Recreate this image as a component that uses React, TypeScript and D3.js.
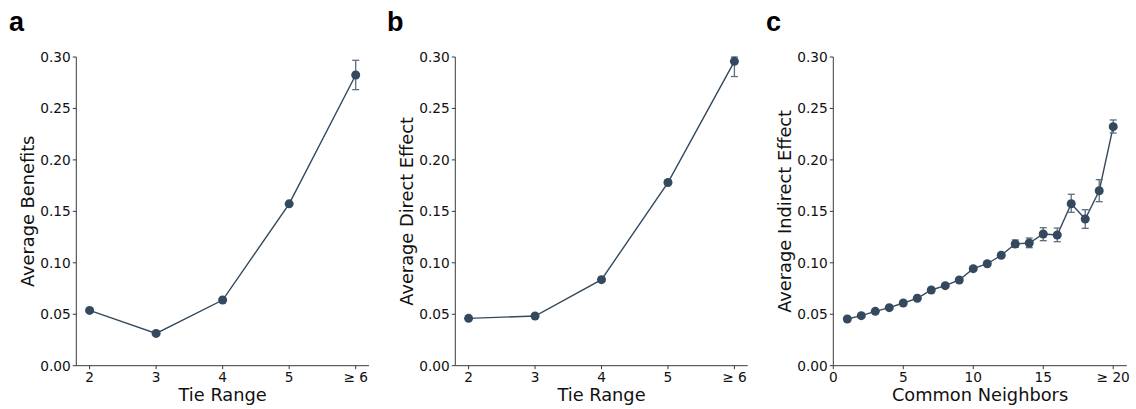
import React from "react";
import * as d3 from "d3";

// ---- Data ----
const tieRange = [2, 3, 4, 5, 6];
const tieRangeLabels = ["2", "3", "4", "5", "≥ 6"];

const benefits = [0.0537, 0.0314, 0.0638, 0.1573, 0.2825];
const benefitsLo = [0.0527, 0.0306, 0.0630, 0.1563, 0.2683];
const benefitsHi = [0.0547, 0.0322, 0.0646, 0.1583, 0.2968];

const directEffect = [0.046, 0.0483, 0.0836, 0.178, 0.2958];
const directLo = [0.0452, 0.0475, 0.0828, 0.1770, 0.2810];
const directHi = [0.0468, 0.0491, 0.0844, 0.1790, 0.3000];

const commonNeighbors = [1, 2, 3, 4, 5, 6, 7, 8, 9, 10, 11, 12, 13, 14, 15, 16, 17, 18, 19, 20];
const cnTicks = [0, 5, 10, 15, 20];
const cnTickLabels = ["0", "5", "10", "15", "≥ 20"];
const indirectEffect = [0.0454, 0.0486, 0.0528, 0.0564, 0.0609, 0.0655, 0.0736, 0.0778, 0.0833, 0.0943,
  0.0991, 0.1073, 0.1183, 0.1192, 0.128, 0.127, 0.1574, 0.1426, 0.170, 0.2323];
const indirectLo = [0.0448, 0.0480, 0.0521, 0.0556, 0.0600, 0.0645, 0.0725, 0.0766, 0.0820, 0.0928,
  0.0975, 0.1055, 0.1150, 0.1147, 0.1215, 0.1205, 0.1491, 0.1335, 0.1594, 0.2261];
const indirectHi = [0.0460, 0.0492, 0.0535, 0.0572, 0.0618, 0.0665, 0.0747, 0.0790, 0.0846, 0.0958,
  0.1007, 0.1091, 0.1222, 0.1241, 0.1341, 0.1338, 0.1666, 0.1516, 0.1808, 0.2388];

const yTicks = [0, 0.05, 0.1, 0.15, 0.2, 0.25, 0.3];

const COLOR = "#34495e";
const ERR = "#5d6d80";
const AXIS = "#3a3a3a";
const FONT = "'DejaVu Sans', sans-serif";

type PanelProps = {
  letter: string;
  letterX: number;
  left: number;
  right: number;
  xDomain: [number, number];
  xs: number[];
  ys: number[];
  lo: number[];
  hi: number[];
  xTicks: number[];
  xTickLabels: string[];
  xLabel: string;
  yLabel: string;
};

const TOP = 57;
const BOTTOM = 365.7;

function Panel(p: PanelProps) {
  const x = d3.scaleLinear().domain(p.xDomain).range([p.left, p.right]);
  const y = d3.scaleLinear().domain([0, 0.3]).range([BOTTOM, TOP]);
  const line = d3
    .line<number>()
    .x((_, i) => x(p.xs[i]))
    .y((d) => y(d));
  const cap = 3.5;
  return (
    <g>
      <text x={p.letterX} y={31} fontFamily="'Liberation Sans', Arial, sans-serif" fontWeight="bold" fontSize={27} fill="#000">
        {p.letter}
      </text>
      {/* axes */}
      <line x1={p.left} x2={p.left} y1={TOP} y2={BOTTOM} stroke={AXIS} strokeWidth={1} />
      <line x1={p.left} x2={p.right} y1={BOTTOM} y2={BOTTOM} stroke={AXIS} strokeWidth={1} />
      {yTicks.map((t) => (
        <g key={"y" + t}>
          <line x1={p.left - 3.5} x2={p.left} y1={y(t)} y2={y(t)} stroke={AXIS} strokeWidth={1} />
          <text x={p.left - 5.5} y={y(t)} dy="0.36em" textAnchor="end" fontFamily={FONT} fontSize={13.7} fill="#111">
            {d3.format(".2f")(t)}
          </text>
        </g>
      ))}
      {p.xTicks.map((t, i) => (
        <g key={"x" + t}>
          <line x1={x(t)} x2={x(t)} y1={BOTTOM} y2={BOTTOM + 3.5} stroke={AXIS} strokeWidth={1} />
          <text x={x(t)} y={381.5} textAnchor="middle" fontFamily={FONT} fontSize={13.7} fill="#111">
            {p.xTickLabels[i]}
          </text>
        </g>
      ))}
      <text x={(p.left + p.right) / 2} y={401} textAnchor="middle" fontFamily={FONT} fontSize={17.8} fill="#111">
        {p.xLabel}
      </text>
      <text
        transform={`translate(${p.left - 49},${(TOP + BOTTOM) / 2}) rotate(-90)`}
        textAnchor="middle"
        dy="0.36em"
        fontFamily={FONT}
        fontSize={17.8}
        fill="#111"
      >
        {p.yLabel}
      </text>
      {/* line */}
      <path d={line(p.ys) || ""} fill="none" stroke={COLOR} strokeWidth={1.4} />
      {/* error bars */}
      {p.ys.map((_, i) => (
        <g key={"e" + i} stroke={ERR} strokeWidth={1.3}>
          <line x1={x(p.xs[i])} x2={x(p.xs[i])} y1={y(p.lo[i])} y2={y(p.hi[i])} />
          <line x1={x(p.xs[i]) - cap} x2={x(p.xs[i]) + cap} y1={y(p.lo[i])} y2={y(p.lo[i])} />
          <line x1={x(p.xs[i]) - cap} x2={x(p.xs[i]) + cap} y1={y(p.hi[i])} y2={y(p.hi[i])} />
        </g>
      ))}
      {/* markers */}
      {p.ys.map((d, i) => (
        <circle key={"m" + i} cx={x(p.xs[i])} cy={y(d)} r={4.5} fill={COLOR} />
      ))}
    </g>
  );
}

export default function App() {
  return (
    <svg
      width={1136}
      height={409}
      style={{ position: "absolute", left: 0, top: 0, background: "#fff" }}
    >
      <rect width={1136} height={409} fill="#fff" />
      <Panel
        letter="a"
        letterX={9}
        left={76.3}
        right={369}
        xDomain={[1.8, 6.2]}
        xs={tieRange}
        ys={benefits}
        lo={benefitsLo}
        hi={benefitsHi}
        xTicks={tieRange}
        xTickLabels={tieRangeLabels}
        xLabel="Tie Range"
        yLabel="Average Benefits"
      />
      <Panel
        letter="b"
        letterX={387}
        left={455.3}
        right={747.7}
        xDomain={[1.8, 6.2]}
        xs={tieRange}
        ys={directEffect}
        lo={directLo}
        hi={directHi}
        xTicks={tieRange}
        xTickLabels={tieRangeLabels}
        xLabel="Tie Range"
        yLabel="Average Direct Effect"
      />
      <Panel
        letter="c"
        letterX={766}
        left={833.3}
        right={1126.8}
        xDomain={[0, 20.97]}
        xs={commonNeighbors}
        ys={indirectEffect}
        lo={indirectLo}
        hi={indirectHi}
        xTicks={cnTicks}
        xTickLabels={cnTickLabels}
        xLabel="Common Neighbors"
        yLabel="Average Indirect Effect"
      />
    </svg>
  );
}
